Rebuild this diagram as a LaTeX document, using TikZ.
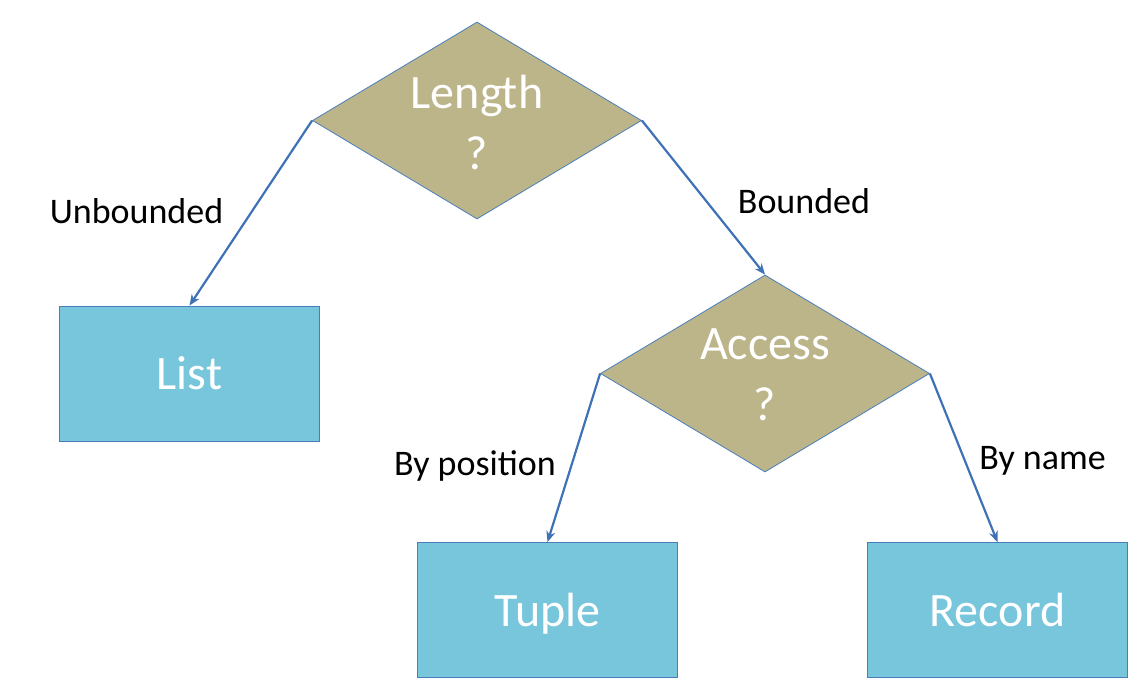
\documentclass[tikz,border=0pt]{standalone}
\usepackage{fontspec}
\setmainfont{Carlito}
\usetikzlibrary{shapes.geometric,arrows.meta}
\definecolor{diafill}{RGB}{189,181,138}
\definecolor{boxfill}{RGB}{120,198,220}
\definecolor{edgeblue}{RGB}{74,126,187}
\definecolor{arrowblue}{RGB}{63,114,181}
\tikzset{
  dia/.style={shape=diamond, fill=diafill, draw=edgeblue, line width=0.8pt,
    minimum width=329pt, minimum height=197pt, inner sep=0pt},
  diatext/.style={text=white, align=center, font=\fontsize{48}{61}\selectfont},
  leaf/.style={rectangle, fill=boxfill, draw=edgeblue, line width=0.8pt,
    minimum width=260pt, minimum height=135pt, inner sep=0pt,
    text height=32pt, text depth=0pt,
    text=white, font=\fontsize{48}{58}\selectfont},
  lab/.style={anchor=base, text=black, font=\fontsize{36}{44}\selectfont, inner sep=0pt},
  conn/.style={draw=arrowblue, line width=2.2pt, -{Stealth[length=11pt,width=9pt]}}
}
\begin{document}
\begin{tikzpicture}[x=1pt,y=-1pt]
\useasboundingbox (0,0) rectangle (1140,682);
\node[dia] (d1) at (477,120.5) {};
\node[diatext] (t1) at (477,122) {Length\\?};
\node[dia] (d2) at (765,373.5) {};
\node[diatext] (t2) at (765,375) {Access\\?};
\node[leaf] (list) at (189.5,373.5) {List};
\node[leaf] (tuple) at (547.5,610) {Tuple};
\node[leaf] (record) at (997.5,610) {Record};
\draw[conn] (d1.west) -- (list.north);
\draw[conn] (d1.east) -- (d2.north);
\draw[conn] (d2.west) -- (tuple.north);
\draw[conn] (d2.east) -- (record.north);
\node[lab] (l1) at (136.5,223) {Unbounded};
\node[lab] (l2) at (804,213) {Bounded};
\node[lab] (l3) at (475,475) {By position};
\node[lab] (l4) at (1042.5,469) {By name};
\end{tikzpicture}
\end{document}
